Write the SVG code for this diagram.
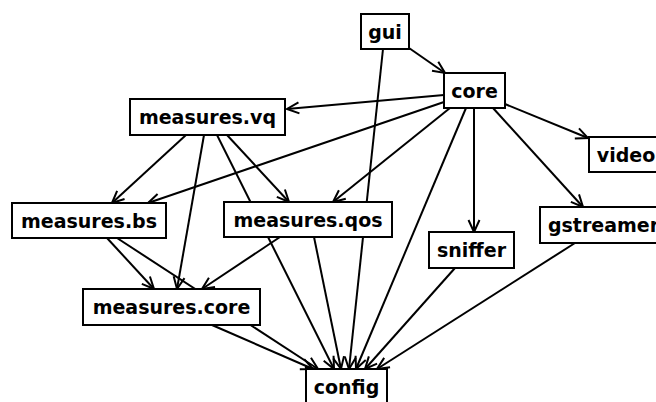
<svg xmlns="http://www.w3.org/2000/svg" width="656" height="402" viewBox="0 0 656 402">
  <style>
    .node rect { fill: #ffffff; stroke: #000000; stroke-width: 2; }
    .node text { font-family: "DejaVu Sans", "Liberation Sans", sans-serif; font-weight: bold; font-size: 19px; text-anchor: middle; fill: #000000; }
    .edges line { stroke: #000000; stroke-width: 2; marker-end: url(#arrow); }
  </style>
  <defs>
    <marker id="arrow" markerUnits="userSpaceOnUse" markerWidth="14" markerHeight="12" refX="12" refY="5.5" orient="auto" overflow="visible">
      <path d="M0,0 L12,5.5 L0,11" fill="none" stroke="#000000" stroke-width="2"/>
    </marker>
  </defs>
  <rect width="656" height="402" fill="#ffffff"/>

  <g id="edges" class="edges">
    <!-- gui -->
    <line x1="409" y1="48" x2="445" y2="73"/>
    <line x1="383" y1="49" x2="349" y2="369"/>
    <!-- core -->
    <line x1="444" y1="95" x2="287" y2="109"/>
    <line x1="444" y1="102" x2="148" y2="203"/>
    <line x1="450" y1="108" x2="333" y2="202"/>
    <line x1="466" y1="108" x2="356" y2="369"/>
    <line x1="474" y1="108" x2="474" y2="232"/>
    <line x1="493" y1="108" x2="583" y2="207"/>
    <line x1="505" y1="104" x2="588" y2="138"/>
    <!-- measures.vq -->
    <line x1="186" y1="135" x2="112" y2="203"/>
    <line x1="204" y1="135" x2="177" y2="289"/>
    <line x1="227" y1="135" x2="289" y2="202"/>
    <line x1="217" y1="135" x2="334" y2="369"/>
    <!-- measures.bs -->
    <line x1="107" y1="238" x2="154" y2="289"/>
    <line x1="117" y1="238" x2="318" y2="369"/>
    <!-- measures.qos -->
    <line x1="280" y1="237" x2="202" y2="289"/>
    <line x1="314" y1="237" x2="341" y2="369"/>
    <!-- measures.core -->
    <line x1="212" y1="325" x2="313" y2="369"/>
    <!-- sniffer -->
    <line x1="455" y1="268" x2="365" y2="369"/>
    <!-- gstreamer -->
    <line x1="575" y1="243" x2="377" y2="369"/>
  </g>

  <g id="gui" class="node">
    <rect x="361" y="14" width="48" height="35"/>
    <text x="385" y="38.5">gui</text>
  </g>
  <g id="core" class="node">
    <rect x="444" y="73" width="61" height="35"/>
    <text x="474.5" y="97.5">core</text>
  </g>
  <g id="measures_vq" class="node">
    <rect x="130" y="99" width="155" height="36"/>
    <text x="207.5" y="124">measures.vq</text>
  </g>
  <g id="video" class="node">
    <rect x="589" y="137" width="74" height="35"/>
    <text x="626" y="161.5">video</text>
  </g>
  <g id="measures_bs" class="node">
    <rect x="12" y="203" width="154" height="35"/>
    <text x="89" y="227.5">measures.bs</text>
  </g>
  <g id="measures_qos" class="node">
    <rect x="224" y="202" width="168" height="35"/>
    <text x="308" y="226.5">measures.qos</text>
  </g>
  <g id="gstreamer" class="node">
    <rect x="540" y="207" width="127" height="36"/>
    <text x="603.5" y="232">gstreamer</text>
  </g>
  <g id="sniffer" class="node">
    <rect x="429" y="232" width="85" height="36"/>
    <text x="471.5" y="257">sniffer</text>
  </g>
  <g id="measures_core" class="node">
    <rect x="83" y="289" width="177" height="36"/>
    <text x="171.5" y="314">measures.core</text>
  </g>
  <g id="config" class="node">
    <rect x="306" y="369" width="81" height="36"/>
    <text x="346.5" y="394">config</text>
  </g>
</svg>
